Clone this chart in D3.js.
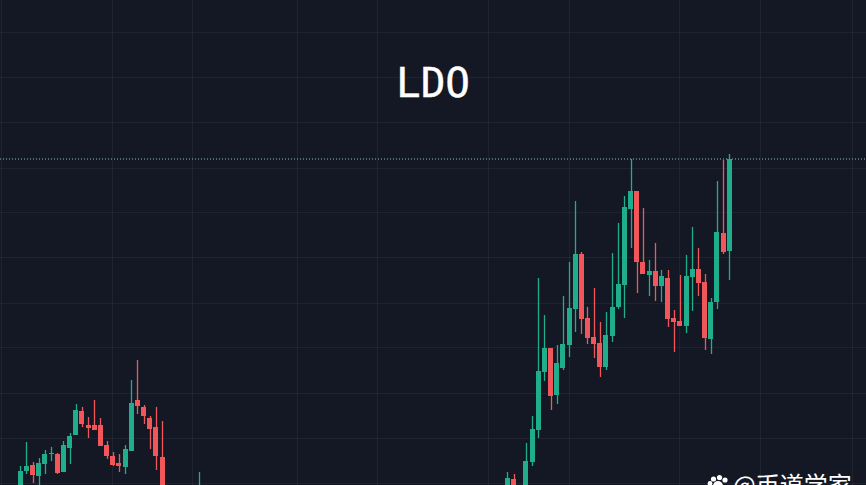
<!DOCTYPE html>
<html><head><meta charset="utf-8">
<script src="https://cdn.jsdelivr.net/npm/d3@7"></script>
<style>html,body{margin:0;padding:0;background:#141825;overflow:hidden}svg{display:block}</style>
</head><body><script>
const title = "LDO";
const watermark = "@币道学家";
const lastPrice = 4.26;
const gridPrices = [5.52,5.07,4.62,4.17,3.72,3.27,2.82,2.37,1.92,1.47,1.02];
const gridBars = [-3,15,28,45,58,76,89,107,120,135];
const bars = [0,1,2,3,4,5,6,7,8,9,10,11,12,13,14,15,16,17,18,19,20,21,22,23,29,79,80,82,83,84,85,86,87,88,89,90,91,92,93,94,95,96,97,98,99,100,101,102,103,104,105,106,107,108,109,110,111,112,113,114,115];
const open = [.95,1.14,1.20,1.09,1.21,1.31,1.31,1.13,1.37,1.50,1.74,1.60,1.60,1.60,1.40,1.29,1.22,1.18,1.34,1.85,1.78,1.67,1.58,1.28,.80,.90,1.06,.85,1.23,1.55,2.13,2.37,1.90,2.17,2.40,2.76,3.31,2.67,2.48,2.42,2.18,2.49,2.78,3.00,3.76,3.94,3.23,3.10,3.14,2.99,3.07,2.67,2.64,2.59,3.08,3.16,3.03,2.46,2.83,3.52,3.34];
const high = [1.19,1.43,1.23,1.27,1.35,1.38,1.32,1.44,1.52,1.81,1.78,1.68,1.85,1.67,1.44,1.33,1.31,1.40,2.05,2.25,1.80,1.69,1.78,1.64,1.13,1.13,1.11,1.42,1.69,3.07,2.70,2.37,2.40,2.89,3.23,3.84,3.33,2.78,2.97,2.63,2.73,3.32,3.62,3.89,4.26,3.94,3.77,3.25,3.42,3.15,3.15,2.75,3.10,3.30,3.58,3.37,3.11,2.87,4.04,4.25,4.31];
const low = [.90,1.11,1.02,.97,1.11,1.24,1.11,1.13,1.21,1.50,1.58,1.47,1.55,1.39,1.26,1.19,1.13,1.11,1.34,1.71,1.61,1.36,1.15,.90,.75,.85,.85,.80,1.19,1.47,2.04,1.75,1.81,2.15,2.28,2.53,2.51,2.41,2.27,2.08,2.15,2.43,2.76,2.67,3.37,2.92,3.11,2.89,2.84,2.83,2.58,2.33,2.59,2.52,2.74,2.89,2.35,2.31,2.76,3.31,3.05];
const close = [1.14,1.19,1.10,1.22,1.31,1.32,1.12,1.40,1.49,1.75,1.61,1.57,1.55,1.39,1.29,1.20,1.19,1.36,1.82,1.79,1.69,1.56,1.29,.95,.90,1.07,.90,1.24,1.56,2.14,2.37,1.89,2.22,2.41,2.77,3.31,2.66,2.47,2.41,2.18,2.50,2.78,3.01,3.78,3.94,3.23,3.11,3.14,2.99,3.09,2.66,2.63,2.59,3.09,3.16,3.02,2.47,2.83,3.53,3.33,4.26];

const W = 866, H = 485;
const UP = "#20ad8c", DOWN = "#f0565a";
const x = d3.scaleLinear().domain([0,115]).range([20.3,729.3]);
const y = d3.scaleLinear().domain([1,5.85]).range([485,0]);
const crisp = v => Math.floor(v) + 0.5;

const svg = d3.select("body").append("svg").attr("width",W).attr("height",H).attr("viewBox",`0 0 ${W} ${H}`);
svg.append("rect").attr("width",W).attr("height",H).attr("fill","#141825");

const grid = svg.append("g").attr("stroke","#f0f3fa").attr("stroke-opacity",0.055).attr("stroke-width",1);
grid.selectAll(".h").data(gridPrices).join("line").attr("class","h")
  .attr("x1",0).attr("x2",W).attr("y1",d=>crisp(y(d))).attr("y2",d=>crisp(y(d)));
grid.selectAll(".v").data(gridBars).join("line").attr("class","v")
  .attr("y1",0).attr("y2",H).attr("x1",d=>crisp(x(d))).attr("x2",d=>crisp(x(d)));

svg.append("line").attr("x1",0).attr("x2",W)
  .attr("y1",crisp(y(lastPrice))+0.5).attr("y2",crisp(y(lastPrice))+0.5)
  .attr("stroke","#8cc4bb").attr("stroke-width",1).attr("stroke-dasharray","1 2");

const rows = bars.map((b,i)=>({b,o:open[i],h:high[i],l:low[i],c:close[i]}));
const c = svg.append("g").selectAll("g").data(rows).join("g")
  .attr("fill",d=>d.c>=d.o?UP:DOWN);
c.append("rect").attr("x",d=>Math.round(x(d.b))-0.15).attr("width",1.3)
  .attr("y",d=>y(d.h)).attr("height",d=>y(d.l)-y(d.h));
c.append("rect").attr("shape-rendering","crispEdges").attr("x",d=>Math.round(x(d.b)-2.5)).attr("width",5)
  .attr("y",d=>y(Math.max(d.o,d.c))).attr("height",d=>Math.max(1,Math.abs(y(d.o)-y(d.c))));

svg.append("text").text(title).attr("x",433).attr("y",97).attr("text-anchor","middle")
  .attr("font-family","'DejaVu Sans Mono',monospace").attr("font-size",41).attr("fill","#fff")
  .attr("stroke","#fff").attr("stroke-width",0.4);

const paw = svg.append("g").attr("fill","#fff");
[[713.5,479,2.6],[719.5,477.5,2.6],[725,480,2.6],[710,483.5,2.4],[718,486,5]].forEach(p=>
  paw.append("circle").attr("cx",p[0]).attr("cy",p[1]).attr("r",p[2]));
svg.append("text").text(watermark).attr("x",733).attr("y",494)
  .attr("font-family","'Noto Sans CJK SC',sans-serif").attr("font-size",24).attr("fill","#fff");
</script></body></html>
